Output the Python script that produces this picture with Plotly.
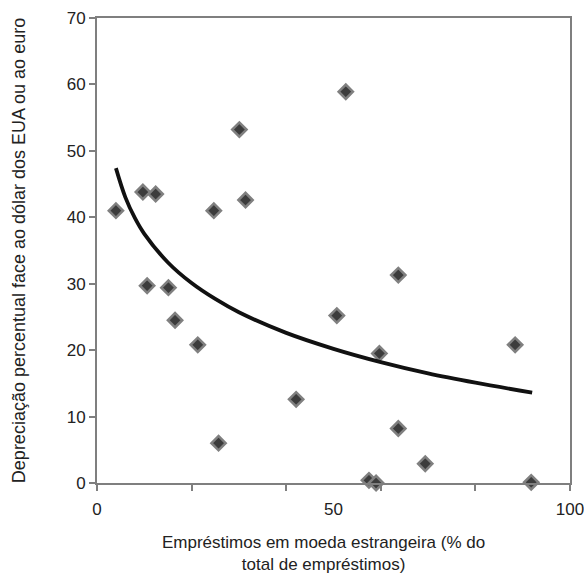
import plotly.graph_objects as go

# Scatter data: foreign-currency loans (% of total) vs depreciation (%)
loans_pct = [4.0, 9.7, 12.4, 24.7, 30.1, 31.4, 52.6, 10.6, 15.1, 16.5, 21.3, 25.7,
             42.1, 50.7, 63.7, 59.7, 88.4, 63.7, 69.4, 57.5, 59.0, 91.8]
depreciation = [41.0, 43.8, 43.5, 41.0, 53.2, 42.6, 58.9, 29.7, 29.4, 24.5, 20.8, 6.0,
                12.6, 25.2, 31.3, 19.5, 20.8, 8.2, 2.9, 0.4, 0.0, 0.1]

# Trend line
trend_x = [4, 6, 8, 10, 15, 20, 25, 30, 40, 50, 60, 70, 80, 92]
trend_y = [47.4, 43.0, 39.9, 37.5, 33.2, 30.1, 27.7, 25.7, 22.6, 20.2, 18.2, 16.5, 15.1, 13.6]

x_label_vals = [0, 50, 100]
x_tick_marks = [0, 20, 40, 60, 80, 100]
y_tick_vals = [0, 10, 20, 30, 40, 50, 60, 70]
x_title = "Empréstimos em moeda estrangeira (% do<br>total de empréstimos)"
y_title = "Depreciação percentual face ao dólar dos EUA ou ao euro"

fig = go.Figure()
fig.add_trace(go.Scatter(
    x=loans_pct, y=depreciation, mode="markers",
    marker=dict(symbol="diamond", size=11, color="#3c3c3c",
                line=dict(color="#808080", width=2.5)),
    showlegend=False, cliponaxis=False))
fig.add_trace(go.Scatter(
    x=trend_x, y=trend_y, mode="lines",
    line=dict(color="#111111", width=3.8, shape="spline"),
    showlegend=False))

tick_font = dict(family="Liberation Sans, Arial, sans-serif", size=17, color="#222222")
title_font = dict(family="Liberation Sans, Arial, sans-serif", size=18, color="#222222")
xtitle_font = dict(family="Liberation Sans, Arial, sans-serif", size=17, color="#222222")

fig.update_layout(
    width=584, height=577,
    margin=dict(l=97, r=14, t=18, b=94),
    paper_bgcolor="white", plot_bgcolor="white",
    font=tick_font,
    xaxis=dict(range=[0, 100], tickvals=x_label_vals, ticks="", automargin=False,
               ticklabeloverflow="allow", ticklabelstandoff=10,
               showgrid=False, zeroline=False, tickfont=tick_font,
               showline=True, mirror=True, linecolor="#7f7f7f", linewidth=2,
               minor=dict(tickvals=x_tick_marks, ticks="outside", ticklen=6,
                          tickcolor="#7f7f7f", tickwidth=1.5, showgrid=False)),
    yaxis=dict(range=[0, 70], tickvals=y_tick_vals, ticks="outside", ticklen=6,
               tickcolor="#7f7f7f", tickwidth=1.5, automargin=False,
               showgrid=False, zeroline=False, tickfont=tick_font,
               showline=True, mirror=True, linecolor="#7f7f7f", linewidth=2,
               title=dict(text=y_title, standoff=36, font=title_font)),
)

fig.add_annotation(text=x_title, xref="paper", yref="paper",
                   x=0.479, y=0, yshift=-70,
                   xanchor="center", yanchor="middle", align="center",
                   showarrow=False, font=xtitle_font)

fig.write_html("out.html")
